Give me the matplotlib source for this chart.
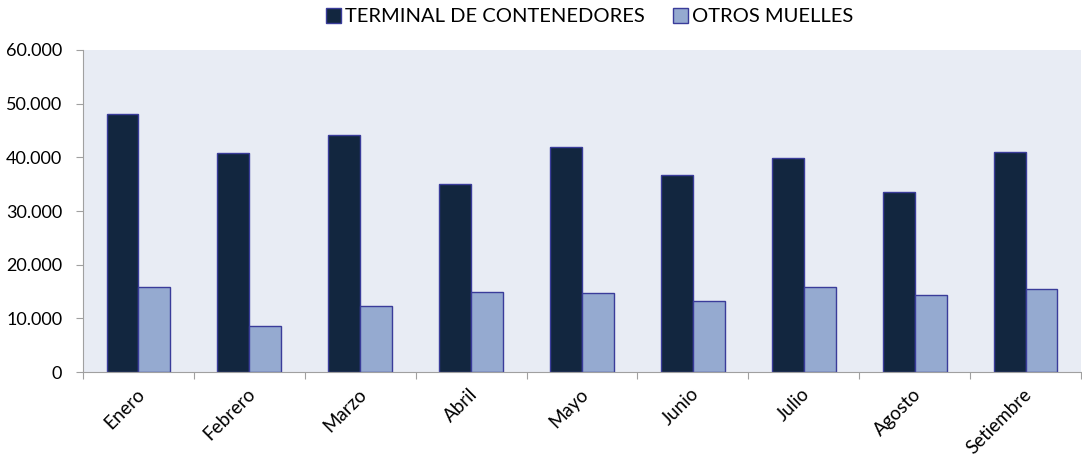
import matplotlib
matplotlib.use("Agg")
import matplotlib.pyplot as plt
import numpy as np
from matplotlib.ticker import FuncFormatter

categories = ["Enero", "Febrero", "Marzo", "Abril", "Mayo", "Junio", "Julio", "Agosto", "Setiembre"]
terminal = [48000, 40900, 44200, 35000, 41900, 36750, 39850, 33600, 41000]
otros = [15750, 8650, 12300, 15000, 14750, 13300, 15750, 14350, 15500]
series_names = ["TERMINAL DE CONTENEDORES", "OTROS MUELLES"]

plt.rcParams['font.family'] = ['Lato', 'DejaVu Sans']

fig = plt.figure(figsize=(10.82, 4.61), dpi=100)
ax = fig.add_axes([83/1082, 1 - 372/461, 998/1082, (372-50)/461])
ax.set_facecolor("#E8ECF4")

x = np.arange(len(categories))
w = 0.288
ax.bar(x - w/2, terminal, w, color="#12263F", edgecolor="#3A3C9A", linewidth=1.0, label=series_names[0])
ax.bar(x + w/2, otros, w, color="#95AAD0", edgecolor="#3A3C9A", linewidth=1.0, label=series_names[1])

ax.set_xlim(-0.5, len(categories) - 0.5)
ax.set_ylim(0, 60000)
ax.set_yticks(np.arange(0, 60001, 10000))
ax.yaxis.set_major_formatter(FuncFormatter(lambda v, p: f"{int(v):,}".replace(",", ".")))
ax.tick_params(axis='y', labelsize=13, length=5, color="#A0A0A0", pad=10)

ax.set_xticks(np.arange(-0.5, len(categories), 1.0))
ax.set_xticklabels([])
ax.tick_params(axis='x', length=5, color="#A0A0A0")
for i, c in enumerate(categories):
    ax.text(i + 0.03, -0.06, c, transform=ax.get_xaxis_transform(), rotation=45,
            rotation_mode='anchor', ha='right', va='center', fontsize=13.5)

for s in ["top", "right"]:
    ax.spines[s].set_visible(False)
for s in ["left", "bottom"]:
    ax.spines[s].set_color("#A0A0A0")

leg = fig.legend(loc='upper center', bbox_to_anchor=(0.545, 1.022), ncol=2, frameon=False,
                 fontsize=14.5, handlelength=0.75, handleheight=0.75, handletextpad=0.2, columnspacing=1.4)

fig.savefig("out.png", dpi=100)
